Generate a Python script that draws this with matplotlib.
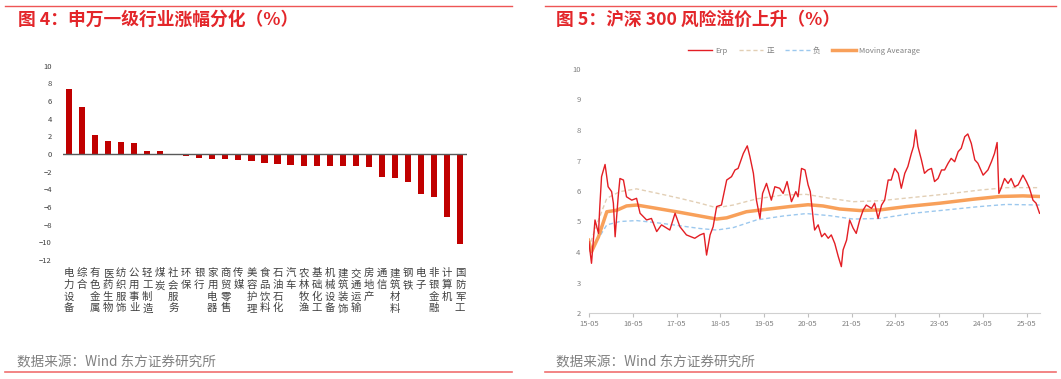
import matplotlib
matplotlib.use("Agg")
import matplotlib.pyplot as plt
from matplotlib.lines import Line2D

plt.rcParams["font.family"] = ["Noto Sans CJK SC", "DejaVu Sans"]

# %% left chart data: 申万一级行业涨幅 (%)
industries = [
    "电力设备", "综合", "有色金属", "医药生物", "纺织服饰", "公用事业", "轻工制造",
    "煤炭", "社会服务", "环保", "银行", "家用电器", "商贸零售", "传媒", "美容护理",
    "食品饮料", "石油石化", "汽车", "农林牧渔", "基础化工", "机械设备", "建筑装饰",
    "交通运输", "房地产", "通信", "建筑材料", "钢铁", "电子", "非银金融", "计算机",
    "国防军工",
]
changes = [
    7.36, 5.36, 2.15, 1.43, 1.36, 1.21, 0.34, 0.34, 0.02, -0.23, -0.45, -0.53,
    -0.57, -0.64, -0.75, -1.02, -1.09, -1.25, -1.32, -1.32, -1.32, -1.32, -1.36,
    -1.43, -2.64, -2.75, -3.13, -4.53, -4.90, -7.17, -10.19,
]

# %% right chart data: 沪深300 风险溢价 (decimal year, %)
erp_t = [
    2015.33, 2015.39, 2015.47, 2015.55, 2015.58, 2015.62, 2015.70, 2015.77,
    2015.85, 2015.89, 2015.93, 2016.00, 2016.04, 2016.12, 2016.19, 2016.31,
    2016.42, 2016.50, 2016.65, 2016.76, 2016.88, 2016.99, 2017.18, 2017.30,
    2017.41, 2017.56, 2017.75, 2017.87, 2017.96, 2018.02, 2018.10, 2018.17,
    2018.25, 2018.36, 2018.48, 2018.59, 2018.67, 2018.74, 2018.86, 2018.95,
    2019.01, 2019.09, 2019.16, 2019.24, 2019.30, 2019.39, 2019.50, 2019.58,
    2019.69, 2019.77, 2019.86, 2019.96, 2020.06, 2020.11, 2020.19, 2020.27,
    2020.34, 2020.39, 2020.46, 2020.49, 2020.57, 2020.65, 2020.72, 2020.80,
    2020.87, 2020.95, 2021.03, 2021.10, 2021.14, 2021.22, 2021.29, 2021.37,
    2021.44, 2021.52, 2021.60, 2021.67, 2021.79, 2021.86, 2021.94, 2022.02,
    2022.09, 2022.17, 2022.24, 2022.32, 2022.40, 2022.47, 2022.55, 2022.62,
    2022.70, 2022.75, 2022.80, 2022.85, 2022.93, 2023.00, 2023.08, 2023.16,
    2023.23, 2023.31, 2023.39, 2023.46, 2023.54, 2023.61, 2023.69, 2023.77,
    2023.84, 2023.92, 2023.99, 2024.07, 2024.15, 2024.22, 2024.34, 2024.45,
    2024.53, 2024.60, 2024.66, 2024.70, 2024.75, 2024.83, 2024.91, 2024.98,
    2025.06, 2025.14, 2025.25, 2025.33, 2025.40, 2025.48, 2025.55, 2025.63,
]
erp_v = [
    4.34, 3.63, 5.05, 4.61, 5.49, 6.47, 6.87, 6.14,
    5.98, 5.60, 4.50, 5.81, 6.41, 6.36, 5.81, 5.70,
    5.76, 5.27, 5.05, 5.10, 4.67, 4.89, 4.72, 5.27,
    4.83, 4.56, 4.45, 4.56, 4.61, 3.90, 4.56, 4.83,
    5.49, 5.54, 6.36, 6.47, 6.69, 6.74, 7.23, 7.48,
    7.13, 6.58, 5.70, 5.10, 5.92, 6.25, 5.70, 6.14,
    6.09, 5.92, 6.31, 5.65, 5.98, 5.81, 6.74, 6.69,
    6.20, 5.98, 5.05, 4.72, 4.89, 4.50, 4.61, 4.45,
    4.56, 4.28, 3.85, 3.52, 4.07, 4.39, 5.05, 4.78,
    4.61, 5.05, 5.38, 5.54, 5.43, 5.60, 5.10, 5.54,
    5.70, 6.36, 6.36, 6.74, 6.58, 6.09, 6.58, 6.80,
    7.23, 7.46, 8.00, 7.46, 7.02, 6.58, 6.69, 6.74,
    6.31, 6.41, 6.69, 6.69, 6.91, 7.07, 6.96, 7.29,
    7.40, 7.78, 7.87, 7.56, 7.02, 6.91, 6.52, 6.69,
    6.96, 7.23, 7.59, 5.92, 6.09, 6.41, 6.25, 6.41,
    6.14, 6.20, 6.52, 6.31, 6.09, 5.70, 5.60, 5.27,
]

ma_t = [
    2015.32, 2015.39, 2015.55, 2015.74, 2015.97, 2016.19, 2016.42, 2016.88,
    2017.41, 2017.87, 2018.25, 2018.48, 2018.93, 2019.39, 2019.92, 2020.34,
    2020.68, 2021.06, 2021.52, 2021.98, 2022.59, 2023.35, 2024.11, 2024.72,
    2025.25, 2025.63,
]
ma_v = [
    4.39, 4.01, 4.50, 5.32, 5.37, 5.51, 5.54, 5.43,
    5.30, 5.18, 5.08, 5.12, 5.32, 5.40, 5.49, 5.55,
    5.51, 5.41, 5.36, 5.38, 5.49, 5.60, 5.73, 5.82,
    5.84, 5.82,
]

band_t = [
    2015.32, 2015.55, 2015.74, 2016.04, 2016.42, 2016.88, 2017.41, 2017.87,
    2018.25, 2018.63, 2019.16, 2019.77, 2020.30, 2020.84, 2021.37, 2021.98,
    2022.74, 2023.50, 2024.26, 2024.87, 2025.63,
]
upper_v = [
    4.12, 5.05, 5.76, 5.98, 6.07, 5.93, 5.76, 5.60,
    5.45, 5.54, 5.74, 5.87, 5.89, 5.76, 5.65, 5.68,
    5.79, 5.90, 6.03, 6.11, 6.11,
]
lower_v = [
    4.01, 4.45, 4.89, 5.00, 5.03, 4.96, 4.86, 4.77,
    4.72, 4.80, 5.05, 5.18, 5.26, 5.19, 5.08, 5.10,
    5.27, 5.38, 5.49, 5.56, 5.54,
]
year_ticks = list(range(2015, 2026))

W, H = 1061, 379
fig = plt.figure(figsize=(W / 100, H / 100), dpi=100)

RED = "#E3262A"
GRAY = "#808080"


def px_axes(x0, y0, x1, y1):
    # pixel box (top-left origin) -> figure axes
    return fig.add_axes([x0 / W, 1 - y1 / H, (x1 - x0) / W, (y1 - y0) / H])


# frame lines, titles, sources
for xa, xb in [(5, 512), (545, 1056)]:
    fig.add_artist(Line2D([xa / W, xb / W], [1 - 5.5 / H] * 2, color="#EE5555", lw=1.0))
    fig.add_artist(Line2D([xa / W, xb / W], [1 - 372 / H] * 2, color="#F07070", lw=1.2))

fig.text(18 / W, 1 - 20 / H, "图 4：申万一级行业涨幅分化（%）", color=RED,
         fontsize=12.8, fontweight="bold", va="center", ha="left")
fig.text(556 / W, 1 - 20 / H, "图 5：沪深 300 风险溢价上升（%）", color=RED,
         fontsize=12.8, fontweight="bold", va="center", ha="left")
fig.text(17 / W, 1 - 362 / H, "数据来源：Wind 东方证券研究所", color=GRAY,
         fontsize=9.8, va="center", ha="left")
fig.text(556 / W, 1 - 362 / H, "数据来源：Wind 东方证券研究所", color=GRAY,
         fontsize=9.8, va="center", ha="left")

# %% left: bar chart
ax1 = px_axes(63, 65.7, 467, 260)
x = list(range(len(industries)))
ax1.bar(x, changes, width=0.47, color="#C00000")
ax1.axhline(0, color="#595959", lw=1.0)
ax1.set_xlim(-0.46, len(industries) - 0.46)
ax1.set_ylim(-12, 10)
ax1.set_yticks(range(-12, 11, 2))
ax1.tick_params(axis="y", length=0, labelsize=5.5, labelcolor="#404040", pad=8)
ax1.set_xticks(x)
ax1.set_xticklabels(["\n".join(s) for s in industries], fontsize=7.5,
                    linespacing=1.2, color="#404040", va="top")
ax1.tick_params(axis="x", length=0, pad=6)
for s in ax1.spines.values():
    s.set_visible(False)

# %% right: ERP line chart
ax2 = px_axes(589, 69, 1040, 313)
ax2.plot(band_t, upper_v, color="#E2CFB5", lw=1.0, ls=(0, (3, 2)), label="正")
ax2.plot(band_t, lower_v, color="#9CC8EE", lw=1.0, ls=(0, (3, 2)), label="负")
ax2.plot(ma_t, ma_v, color="#F8A05A", lw=2.5, label="Moving Avearage")
ax2.plot(erp_t, erp_v, color="#E31E24", lw=1.0, label="Erp")
ax2.set_xlim(2015.333, 2025.64)
ax2.set_ylim(2, 10)
ax2.set_yticks(range(2, 11))
ax2.set_xticks([y + 4 / 12 for y in year_ticks])
ax2.set_xticklabels([f"{y % 100:02d}-05" for y in year_ticks])
ax2.tick_params(axis="y", length=0, labelsize=5.5, labelcolor=GRAY, pad=6)
ax2.tick_params(axis="x", length=3, color="#BFBFBF", labelsize=5.5,
                labelcolor=GRAY, pad=2)
for k in ("top", "right", "left"):
    ax2.spines[k].set_visible(False)
ax2.spines["bottom"].set_color("#D0D0D0")

handles, labels = ax2.get_legend_handles_labels()
order = [3, 0, 1, 2]
fig.legend([handles[i] for i in order], [labels[i] for i in order],
           loc="center", bbox_to_anchor=(804 / W, 1 - 51 / H), ncol=4,
           frameon=False, fontsize=5.5, labelcolor=GRAY, handlelength=3.2,
           columnspacing=1.5, handletextpad=0.4)

fig.savefig("out.png", dpi=100)
